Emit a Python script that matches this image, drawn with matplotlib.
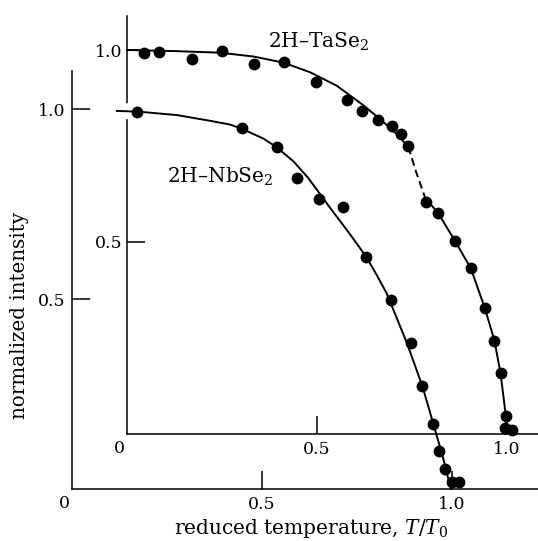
import numpy as np
import matplotlib
matplotlib.use("Agg")
import matplotlib.pyplot as plt

plt.rcParams['font.family'] = ['DejaVu Serif']
plt.rcParams['mathtext.fontset'] = 'dejavuserif'
plt.rcParams['font.size'] = 12.5

# 2H-NbSe2 (outer axes) measured points
nb_x = [0.172, 0.447, 0.539, 0.591, 0.650, 0.714, 0.773, 0.839, 0.891, 0.922, 0.951, 0.966, 0.982, 0.999, 1.018]
nb_y = [0.993, 0.949, 0.900, 0.818, 0.764, 0.743, 0.611, 0.497, 0.385, 0.271, 0.171, 0.101, 0.053, 0.019, 0.019]
# 2H-NbSe2 fitted curve
nb_cx = [0.118, 0.175, 0.276, 0.363, 0.416, 0.447, 0.504, 0.539, 0.583, 0.622, 0.653, 0.679, 0.714,
         0.745, 0.774, 0.802, 0.828, 0.846, 0.881, 0.922, 0.951, 0.975, 0.997]
nb_cy = [0.995, 0.993, 0.984, 0.969, 0.959, 0.948, 0.922, 0.899, 0.862, 0.818, 0.776, 0.740, 0.694,
         0.652, 0.611, 0.563, 0.515, 0.471, 0.385, 0.271, 0.171, 0.088, 0.000]

# 2H-TaSe2 (inner axes) measured points
ta_x = [0.046, 0.085, 0.170, 0.249, 0.334, 0.413, 0.497, 0.580, 0.619, 0.660, 0.698, 0.720, 0.740,
        0.787, 0.819, 0.863, 0.905, 0.942, 0.967, 0.983, 0.997, 0.996, 1.013]
ta_y = [0.993, 0.996, 0.977, 0.998, 0.964, 0.968, 0.916, 0.870, 0.841, 0.818, 0.803, 0.781, 0.750,
        0.605, 0.575, 0.503, 0.431, 0.327, 0.243, 0.158, 0.047, 0.015, 0.010]
# 2H-TaSe2 fitted curve: solid, dashed, solid
ta_c1x = [0.0, 0.131, 0.245, 0.333, 0.412, 0.482, 0.552, 0.622, 0.666, 0.710, 0.740]
ta_c1y = [1.0, 0.997, 0.993, 0.983, 0.967, 0.942, 0.907, 0.856, 0.820, 0.781, 0.748]
ta_c2x = [0.740, 0.762, 0.785]
ta_c2y = [0.748, 0.679, 0.614]
ta_c3x = [0.785, 0.819, 0.863, 0.905, 0.942, 0.967, 0.983, 0.997, 0.998]
ta_c3y = [0.614, 0.575, 0.503, 0.431, 0.327, 0.243, 0.158, 0.047, 0.0]

fig = plt.figure(figsize=(5.38, 5.41), dpi=100)
ax = fig.add_axes([72/538, 52/541, 466/538, 418/541])
ax2 = fig.add_axes([127/538, 107/541, 411/538, 418/541])
ax2.patch.set_visible(False)

for a in (ax, ax2):
    for s in ('top', 'right'):
        a.spines[s].set_visible(False)
    for s in ('left', 'bottom'):
        a.spines[s].set_linewidth(1.1)
    a.tick_params(direction='in', length=13, width=1.1, pad=5)
    a.set_xticks([0.5, 1.0])
    a.set_xticklabels(['0.5', '1.0'])
    a.set_yticks([0.5, 1.0])
    a.set_yticklabels(['0.5', '1.0'])
    a.annotate('0', xy=(0, 0), xycoords='data', xytext=(-1.5, -4), textcoords='offset points',
               ha='right', va='top')

ax.set_xlim(0, 466/380)
ax.set_ylim(0, 418/380)
ax2.set_xlim(0, 411/380)
ax2.set_ylim(0, 418/384)
ax2.tick_params(axis='y', pad=3)

ax.set_xlabel('reduced temperature, $T/T_0$', fontsize=14.5)
ax.set_ylabel('normalized intensity', fontsize=14.3)
ax.xaxis.set_label_coords(0.513, -0.068)
ax.yaxis.set_label_coords(-0.092, 0.416)

# TaSe2 on inner axes
ax2.plot(ta_c1x, ta_c1y, color='black', lw=1.4, clip_on=False)
ax2.plot(ta_c2x, ta_c2y, color='black', lw=1.4, ls=(0, (4, 2.2)), clip_on=False)
ax2.plot(ta_c3x, ta_c3y, color='black', lw=1.4, clip_on=False)
ax2.plot(ta_x, ta_y, 'o', color='black', ms=7.5, clip_on=False, zorder=4)
ax2.text(0.371, 1.02, '2H\u2013TaSe$_2$', fontsize=14.5, ha='left', va='center')

# NbSe2 drawn over the inner axes so it breaks the inner spines
tr = ax.transData
hx = [x for x, y in zip(nb_cx, nb_cy) if y > 0.1]
hy = [y for y in nb_cy if y > 0.1]
ax2.plot(hx, hy, color='white', lw=11.5, solid_capstyle='butt', transform=tr, clip_on=False, zorder=3)
ax2.plot(nb_cx, nb_cy, color='black', lw=1.4, transform=tr, clip_on=False, zorder=3.5)
ax2.plot(nb_x, nb_y, 'o', color='black', ms=7.5, transform=tr, clip_on=False, zorder=4)
ax2.text(0.25, 0.821, '2H\u2013NbSe$_2$', fontsize=14.5, ha='left', va='center', transform=tr, zorder=5)

fig.savefig('out.png', dpi=100)
